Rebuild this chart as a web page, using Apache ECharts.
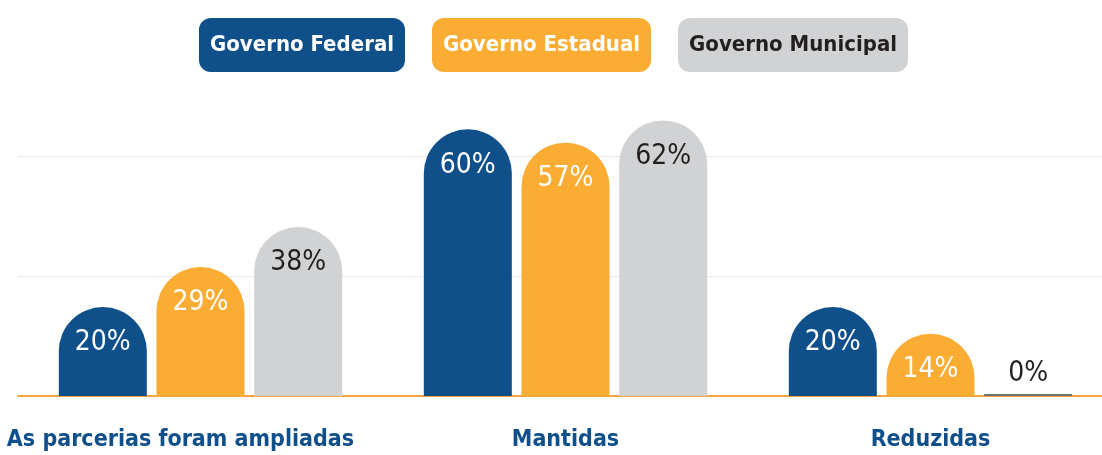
<!DOCTYPE html>
<html>
<head>
<meta charset="utf-8">
<script src="https://cdn.jsdelivr.net/npm/echarts@6/dist/echarts.min.js"></script>
<style>
  html, body { margin: 0; padding: 0; background: #fff; }
  #chart { width: 1102px; height: 455px; }
</style>
</head>
<body>
<div id="chart"></div>
<script>
// dados
var categories = ['As parcerias foram ampliadas', 'Mantidas', 'Reduzidas'];
var seriesNames = ['Governo Federal', 'Governo Estadual', 'Governo Municipal'];
var federal = [20, 60, 20];
var estadual = [29, 57, 14];
var municipal = [38, 62, 0];
var yMin = 0, yMax = 81, yStep = 27;

var FONT = "'DejaVu Sans Condensed', 'Liberation Sans Narrow', sans-serif";
var colors = ['#0f4f8a', '#fbac33', '#d1d2d4'];
var textColors = ['#ffffff', '#ffffff', '#231f20'];

function makeData(values){
    return values.map(function(v){
        if(v === 0){
            return {
                value: v,
                itemStyle: { color: '#707173', borderRadius: 0 },
                label: { position: 'top', distance: 6 }
            };
        }
        return v;
    });
}

function makeSeries(name, values, idx){
    return {
        name: name,
        type: 'bar',
        data: makeData(values),
        barWidth: 88,
        barGap: '11%',
        barMinHeight: 2,
        itemStyle: { color: colors[idx], borderRadius: [44, 44, 0, 0] },
        label: {
            show: true,
            position: 'insideTop',
            distance: 22,
            formatter: '{c}%',
            color: textColors[idx],
            fontFamily: FONT,
            fontSize: 28
        }
    };
}

var chart = echarts.init(document.getElementById('chart'));

chart.setOption({
    animation: false,
    backgroundColor: '#ffffff',
    legend: {
        top: 13,
        left: 'center',
        itemGap: 22,
        icon: 'none',
        itemWidth: 0,
        itemHeight: 0,
        selectedMode: false,
        data: seriesNames.map(function(n, i){
            return {
                name: n,
                textStyle: {
                    color: textColors[i],
                    backgroundColor: colors[i],
                    borderRadius: 12,
                    padding: [17, 11, 15, 11],
                    fontFamily: FONT,
                    fontWeight: 'bold',
                    fontSize: 22
                }
            };
        })
    },
    grid: { left: 18, width: 1095, top: 36, bottom: 59, outerBoundsMode: 'none', containLabel: false },
    xAxis: {
        type: 'category',
        data: categories,
        axisLine: { lineStyle: { color: '#f4a63c', width: 2 } },
        axisTick: { show: false },
        axisLabel: {
            interval: 0,
            hideOverlap: false,
            margin: 33,
            color: '#0f4f8a',
            fontFamily: FONT,
            fontWeight: 'bold',
            fontSize: 23,
            formatter: function(v, i){
                return i === 0 ? '{first|' + v + '}' : v;
            },
            rich: {
                first: {
                    color: '#0f4f8a',
                    fontFamily: FONT,
                    fontWeight: 'bold',
                    fontSize: 23,
                    padding: [0, 40, 0, 0]
                }
            }
        }
    },
    yAxis: {
        type: 'value',
        min: yMin,
        max: yMax,
        interval: yStep,
        axisLabel: { show: false },
        axisLine: { show: false },
        axisTick: { show: false },
        splitLine: {
            show: true,
            showMinLine: false,
            showMaxLine: false,
            lineStyle: { color: '#e8e8e8', width: 1 }
        }
    },
    series: [
        makeSeries(seriesNames[0], federal, 0),
        makeSeries(seriesNames[1], estadual, 1),
        makeSeries(seriesNames[2], municipal, 2)
    ]
});
</script>
</body>
</html>
